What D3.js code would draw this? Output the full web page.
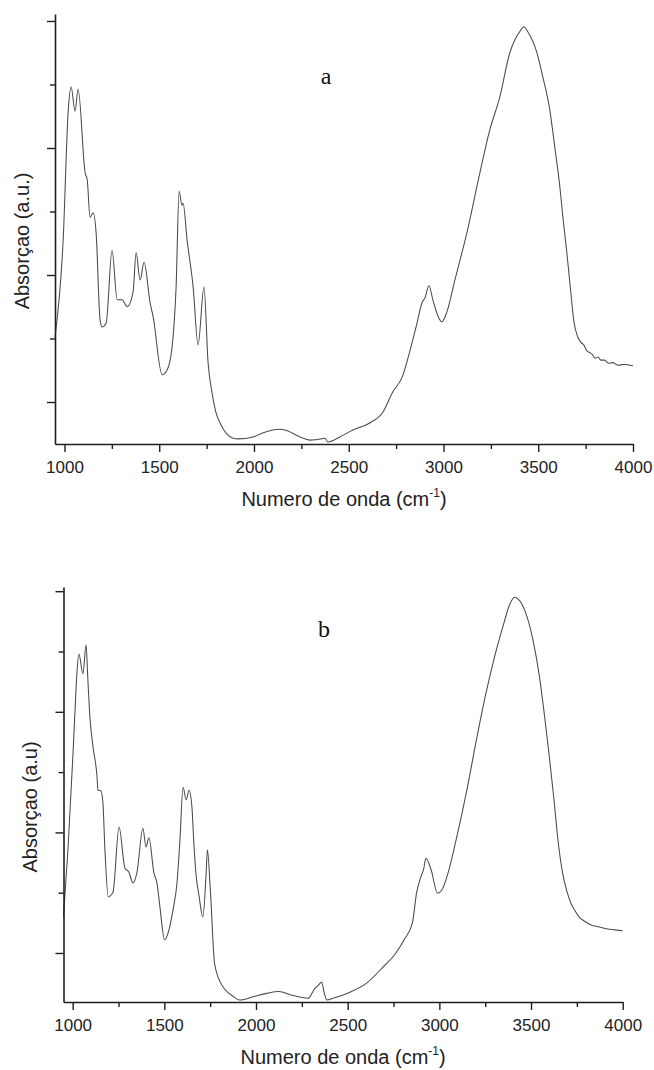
<!DOCTYPE html>
<html>
<head>
<meta charset="utf-8">
<script src="https://cdn.jsdelivr.net/npm/d3@7"></script>
<style>
  body { margin: 0; background: #fff; }
  svg { display: block; }
</style>
</head>
<body>
<svg id="chart" width="654" height="1070"></svg>
<script>
// FTIR spectra: absorbance (a.u.) against wavenumber (cm-1), two samples.

const wavenumberA = [950, 993, 1020, 1035, 1056, 1072, 1109, 1120, 1135, 1151, 1167, 1188, 1199, 1220,
  1251, 1278, 1304, 1331, 1362, 1378, 1399, 1420, 1452, 1468, 1515, 1541, 1568, 1589, 1605, 1620,
  1626, 1647, 1679, 1705, 1736, 1758, 1779, 1800, 1821, 1890, 1916, 1995, 2042, 2137, 2163, 2243,
  2295, 2358, 2374, 2390, 2453, 2522, 2611, 2680, 2733, 2780, 2838, 2860, 2886, 2902, 2923, 2944,
  2965, 2991, 3018, 3060, 3123, 3192, 3244, 3297, 3350, 3376, 3402, 3424, 3445, 3492, 3524, 3561,
  3587, 3614, 3630, 3651, 3672, 3687, 3709, 3725, 3740, 3756, 3770, 3785, 3800, 3815, 3830, 3850,
  3870, 3893, 3920, 3950, 4000];
const absorbA = [0.202, 0.355, 0.560, 0.596, 0.558, 0.593, 0.461, 0.450, 0.391, 0.398, 0.366, 0.229, 0.218, 0.224,
  0.339, 0.261, 0.261, 0.250, 0.273, 0.335, 0.292, 0.320, 0.256, 0.234, 0.143, 0.150, 0.187, 0.281, 0.432, 0.410,
  0.413, 0.355, 0.281, 0.190, 0.281, 0.161, 0.114, 0.083, 0.067, 0.043, 0.042, 0.045, 0.051, 0.057, 0.056, 0.045,
  0.040, 0.042, 0.043, 0.037, 0.045, 0.056, 0.067, 0.084, 0.116, 0.138, 0.198, 0.224, 0.256, 0.264, 0.283, 0.261,
  0.240, 0.226, 0.242, 0.292, 0.366, 0.461, 0.528, 0.580, 0.650, 0.670, 0.683, 0.691, 0.683, 0.651, 0.612, 0.560,
  0.502, 0.439, 0.391, 0.335, 0.272, 0.229, 0.202, 0.194, 0.190, 0.181, 0.178, 0.175, 0.169, 0.171, 0.166, 0.166,
  0.161, 0.162, 0.158, 0.159, 0.157];

const wavenumberB = [950, 975, 1000, 1013, 1023, 1034, 1056, 1073, 1083, 1094, 1111, 1133, 1138, 1154,
  1165, 1176, 1194, 1220, 1253, 1285, 1307, 1329, 1351, 1383, 1400, 1416, 1443, 1460, 1476, 1501,
  1525, 1547, 1569, 1585, 1602, 1619, 1635, 1651, 1660, 1672, 1690, 1710, 1728, 1735, 1751, 1774,
  1808, 1876, 1910, 1990, 2058, 2126, 2194, 2285, 2320, 2342, 2358, 2372, 2387, 2420, 2512, 2603,
  2694, 2763, 2808, 2853, 2876, 2899, 2915, 2926, 2955, 2990, 3013, 3047, 3091, 3150, 3200, 3250,
  3300, 3350, 3380, 3395, 3410, 3430, 3470, 3510, 3545, 3575, 3600, 3625, 3647, 3672, 3695, 3717,
  3740, 3762, 3790, 3831, 3860, 3898, 4000];
const absorbB = [0.160, 0.275, 0.420, 0.503, 0.564, 0.596, 0.563, 0.611, 0.553, 0.491, 0.442, 0.392, 0.370, 0.369,
  0.349, 0.271, 0.193, 0.201, 0.309, 0.241, 0.234, 0.216, 0.234, 0.307, 0.276, 0.291, 0.233, 0.216, 0.176, 0.122,
  0.138, 0.171, 0.216, 0.287, 0.375, 0.354, 0.370, 0.340, 0.287, 0.233, 0.193, 0.160, 0.232, 0.271, 0.204, 0.083,
  0.050, 0.028, 0.022, 0.028, 0.033, 0.036, 0.030, 0.025, 0.041, 0.047, 0.052, 0.034, 0.022, 0.025, 0.035, 0.050,
  0.077, 0.100, 0.122, 0.150, 0.200, 0.226, 0.240, 0.257, 0.238, 0.199, 0.204, 0.232, 0.287, 0.370, 0.450, 0.525,
  0.590, 0.645, 0.675, 0.685, 0.690, 0.687, 0.665, 0.620, 0.560, 0.490, 0.425, 0.355, 0.287, 0.233, 0.203, 0.183,
  0.170, 0.160, 0.153, 0.146, 0.144, 0.141, 0.137];

const xMajorTicks = [1000, 1500, 2000, 2500, 3000, 3500, 4000];
const xMinorTicks = [1250, 1750, 2250, 2750, 3250, 3750];
const yMajorTicks = [0.1, 0.3, 0.5, 0.7];
const yMinorTicks = [0.2, 0.4, 0.6];
const panelLetters = ["a", "b"];
const yTitles = ["Absorçao (a.u.)", "Absorçao (a.u)"];
const xTitle = "Numero de onda (cm";

const panels = [
  { letter: panelLetters[0], yTitle: yTitles[0], x: wavenumberA, y: absorbA,
    left: 55, right: 633, top: 14, bottom: 444, yDomain: [0.0339, 0.711],
    letterPos: [326, 84], yTitlePos: [29, 241] },
  { letter: panelLetters[1], yTitle: yTitles[1], x: wavenumberB, y: absorbB,
    left: 63.5, right: 622.7, top: 587, bottom: 1002, yDomain: [0.0187, 0.707],
    letterPos: [324, 637], yTitlePos: [37, 807] }
];

const svg = d3.select("#chart");
const axisColor = "#1e1e1e";

panels.forEach(p => {
  const g = svg.append("g");
  const x = d3.scaleLinear().domain([950, 4000]).range([p.left, p.right]);
  const y = d3.scaleLinear().domain(p.yDomain).range([p.bottom, p.top]);

  // spectrum
  const line = d3.line()
    .x(d => x(d[0]))
    .y(d => y(d[1]))
    .curve(d3.curveMonotoneX);
  g.append("path")
    .datum(d3.zip(p.x, p.y))
    .attr("fill", "none")
    .attr("stroke", "#4a4a4a")
    .attr("stroke-width", 1.05)
    .attr("stroke-linejoin", "round")
    .attr("d", line);

  // x axis: labelled major ticks and short minor ticks
  const gx = g.append("g").attr("transform", `translate(0,${p.bottom})`);
  gx.call(d3.axisBottom(x).tickValues(xMajorTicks).tickSize(8).tickSizeOuter(0)
    .tickPadding(9).tickFormat(d3.format("d")));
  const gxm = g.append("g").attr("transform", `translate(0,${p.bottom})`);
  gxm.call(d3.axisBottom(x).tickValues(xMinorTicks).tickSize(5).tickFormat(""));
  gxm.select(".domain").remove();

  // y axis: ticks only
  const gy = g.append("g").attr("transform", `translate(${p.left},0)`);
  gy.call(d3.axisLeft(y).tickValues(yMajorTicks).tickSize(8).tickSizeOuter(0).tickFormat(""));
  const gym = g.append("g").attr("transform", `translate(${p.left},0)`);
  gym.call(d3.axisLeft(y).tickValues(yMinorTicks).tickSize(5).tickFormat(""));
  gym.select(".domain").remove();

  [gx, gxm, gy, gym].forEach(a => {
    a.selectAll(".domain").attr("stroke", axisColor).attr("stroke-width", 1.6);
    a.selectAll(".tick line").attr("stroke", axisColor).attr("stroke-width", 1.4);
  });
  gx.selectAll(".tick text")
    .attr("fill", "#222")
    .style("font-family", "'Liberation Sans', Arial, sans-serif")
    .style("font-size", "17px");

  // axis titles
  const xt = g.append("text")
    .attr("x", (p.left + p.right) / 2)
    .attr("y", p.bottom + 62)
    .attr("text-anchor", "middle")
    .attr("fill", "#222")
    .style("font-family", "'Liberation Sans', Arial, sans-serif")
    .style("font-size", "20px");
  xt.append("tspan").text(xTitle);
  xt.append("tspan").text("-1").attr("dy", -9).style("font-size", "12px");
  xt.append("tspan").text(")").attr("dy", 9);

  g.append("text")
    .attr("transform", `translate(${p.yTitlePos[0]},${p.yTitlePos[1]}) rotate(-90)`)
    .attr("text-anchor", "middle")
    .attr("fill", "#222")
    .style("font-family", "'Liberation Sans', Arial, sans-serif")
    .style("font-size", "20px")
    .text(p.yTitle);

  // panel letter
  g.append("text")
    .attr("x", p.letterPos[0])
    .attr("y", p.letterPos[1])
    .attr("text-anchor", "middle")
    .attr("fill", "#111")
    .style("font-family", "'Liberation Serif', 'Times New Roman', serif")
    .style("font-size", "24px")
    .text(p.letter);
});
</script>
</body>
</html>
